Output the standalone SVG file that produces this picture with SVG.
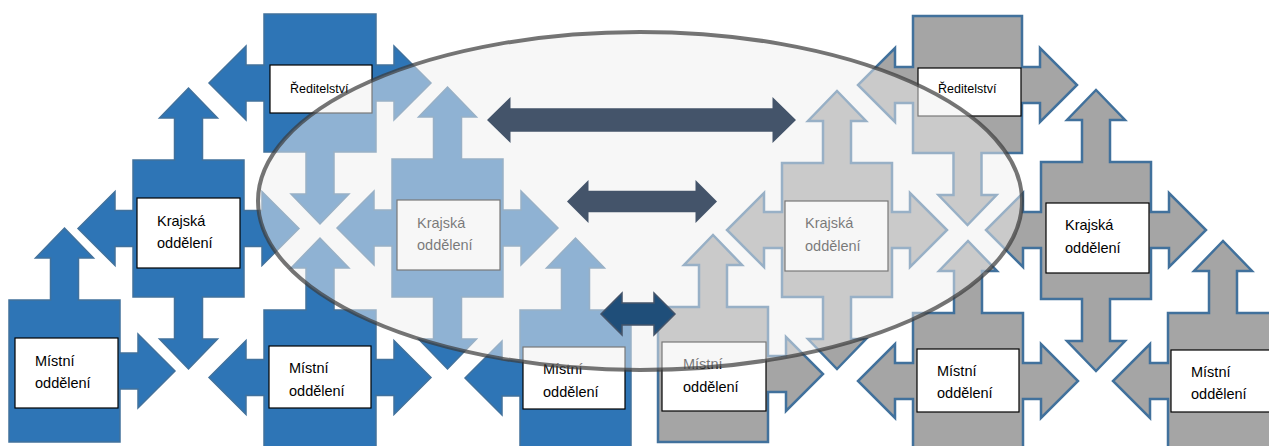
<svg xmlns="http://www.w3.org/2000/svg" width="1269" height="446" viewBox="0 0 1269 446">
<style>
.blue{fill:#2E75B6;stroke:#41719C;stroke-width:1.5;stroke-linejoin:miter}
.gray{fill:#A5A5A5;stroke:#41719C;stroke-width:2.5;stroke-linejoin:miter}
.box{fill:#FFFFFF;stroke:#000000;stroke-width:1.2}
.t{font-family:"Liberation Sans",Arial,sans-serif;font-size:14.5px;fill:#000000}
.tr{font-family:"Liberation Sans",Arial,sans-serif;font-size:12.5px;fill:#000000}
.dk{fill:#44546A}
.dkb{fill:#1F4E79;stroke:#44546A;stroke-width:1.5}
</style>
<rect width="1269" height="446" fill="#FFFFFF"/>
<g id="reditelstvi-blue">
<path class="blue" d="M264,14 H376 V65 H394 V46 L431,83 L394,120 V101 H376 V152 H334 V194 H349 L320,224 L291,194 H306 V152 H264 V101 H246 V120 L209,83 L246,46 V65 H264 Z"/>
<rect class="box" x="270" y="65" width="102" height="48"/>
<text class="tr" x="290" y="93">Ředitelství</text>
</g>
<g id="krajska-blue-left">
<path class="blue" d="M133,160 H174.5 V118 H159.5 L188.5,88 L217.5,118 H202.5 V160 H244 V210.5 H262 V191.5 L299,228.5 L262,265.5 V246.5 H244 V297 H202.5 V339 H217.5 L188.5,369 L159.5,339 H174.5 V297 H133 V246.5 H115 V265.5 L78,228.5 L115,191.5 V210.5 H133 Z"/>
<rect class="box" x="137" y="198" width="103" height="70"/>
<text class="t" x="157" y="226">Krajská</text>
<text class="t" x="157" y="248">oddělení</text>
</g>
<g id="mistni-blue-left">
<path class="blue" d="M9,300 H50.5 V258 H35.5 L64.5,228 L93.5,258 H78.5 V300 H120 V353 H138 V334 L175,371 L138,408 V389 H120 V442 H9 Z"/>
<rect class="box" x="15" y="338" width="103" height="70"/>
<text class="t" x="35" y="366">Místní</text>
<text class="t" x="35" y="388">oddělení</text>
</g>
<g id="mistni-blue-mid">
<path class="blue" d="M264,310 H306 V268 H291 L320,238 L349,268 H334 V310 H376 V359.5 H394 V340.5 L431,377.5 L394,414.5 V395.5 H376 V447 H264 V395.5 H246 V414.5 L209,377.5 L246,340.5 V359.5 H264 Z"/>
<rect class="box" x="269" y="346" width="102" height="62"/>
<text class="t" x="289" y="373">Místní</text>
<text class="t" x="289" y="396">oddělení</text>
</g>
<g id="krajska-blue-center">
<path class="blue" d="M392,159 H433.5 V117 H418.5 L447.5,87 L476.5,117 H461.5 V159 H503 V210 H521 V191 L558,228 L521,265 V246 H503 V297 H461.5 V339 H476.5 L447.5,369 L418.5,339 H433.5 V297 H392 V246 H374 V265 L337,228 L374,191 V210 H392 Z"/>
<rect class="box" x="397" y="200" width="103" height="70"/>
<text class="t" x="417" y="228">Krajská</text>
<text class="t" x="417" y="250">oddělení</text>
</g>
<g id="mistni-blue-right">
<path class="blue" d="M520,310 H561.5 V268 H546.5 L575.5,238 L604.5,268 H589.5 V310 H631 V447 H520 V396 H502 V415 L465,378 L502,341 V360 H520 Z"/>
<rect class="box" x="523" y="347" width="102" height="62"/>
<text class="t" x="543" y="374">Místní</text>
<text class="t" x="543" y="397">oddělení</text>
</g>
<g id="reditelstvi-gray">
<path class="gray" d="M913,16 H1022 V67 H1040 V48 L1077,85 L1040,122 V103 H1022 V153 H981.5 V195 H996.5 L967.5,225 L938.5,195 H953.5 V153 H913 V103 H895 V122 L858,85 L895,48 V67 H913 Z"/>
<rect class="box" x="918" y="68" width="103" height="48"/>
<text class="tr" x="938" y="93">Ředitelství</text>
</g>
<g id="krajska-gray-center">
<path class="gray" d="M782,163 H823 V121 H808 L837,91 L866,121 H851 V163 H892 V212 H910 V193 L947,230 L910,267 V248 H892 V297 H851 V339 H866 L837,369 L808,339 H823 V297 H782 V248 H764 V267 L727,230 L764,193 V212 H782 Z"/>
<rect class="box" x="785" y="201" width="103" height="70"/>
<text class="t" x="805" y="228">Krajská</text>
<text class="t" x="805" y="251">oddělení</text>
</g>
<g id="krajska-gray-right">
<path class="gray" d="M1041,162 H1082 V120 H1067 L1096,90 L1125,120 H1110 V162 H1151 V212 H1169 V193 L1206,230 L1169,267 V248 H1151 V299 H1110 V341 H1125 L1096,371 L1067,341 H1082 V299 H1041 V248 H1023 V267 L986,230 L1023,193 V212 H1041 Z"/>
<rect class="box" x="1046" y="203" width="103" height="70"/>
<text class="t" x="1065" y="230">Krajská</text>
<text class="t" x="1065" y="253">oddělení</text>
</g>
<g id="mistni-gray-left">
<path class="gray" d="M658,307 H699 V265 H684 L713,235 L742,265 H727 V307 H768 V356 H786 V337 L823,374 L786,411 V392 H768 V442 H658 Z"/>
<rect class="box" x="662" y="342" width="104" height="69"/>
<text class="t" x="683" y="369">Místní</text>
<text class="t" x="683" y="392">oddělení</text>
</g>
<g id="mistni-gray-mid">
<path class="gray" d="M913,313 H954 V271 H939 L968,241 L997,271 H982 V313 H1023 V363 H1041 V344 L1078,381 L1041,418 V399 H1023 V450 H913 V399 H895 V418 L858,381 L895,344 V363 H913 Z"/>
<rect class="box" x="917" y="349" width="102" height="63"/>
<text class="t" x="937" y="376">Místní</text>
<text class="t" x="937" y="398">oddělení</text>
</g>
<g id="mistni-gray-right">
<path class="gray" d="M1168,313 H1209 V271 H1194 L1223,241 L1252,271 H1237 V313 H1278 V450 H1168 V399 H1150 V418 L1113,381 L1150,344 V363 H1168 Z"/>
<rect class="box" x="1171" y="350" width="103" height="62"/>
<text class="t" x="1191" y="377">Místní</text>
<text class="t" x="1191" y="399">oddělení</text>
</g>
<g id="overlay">
<ellipse cx="640" cy="201" rx="382" ry="169" fill="#EFEFEF" fill-opacity="0.5" stroke="#3A3A3A" stroke-opacity="0.7" stroke-width="4"/>
</g>
<g id="connectors">
<path class="dk" d="M487,120 L510.5,97 V108.3 H772.5 V97 L796,120 L772.5,143 V131.7 H510.5 V143 Z"/>
<path class="dk" d="M567,201.5 L588.5,180 V190.7 H695.5 V180 L717,201.5 L695.5,223 V212.3 H588.5 V223 Z"/>
<path class="dkb" d="M601,314 L622,293 V303 H654 V293 L675,314 L654,335 V325 H622 V335 Z"/>
</g>
</svg>
